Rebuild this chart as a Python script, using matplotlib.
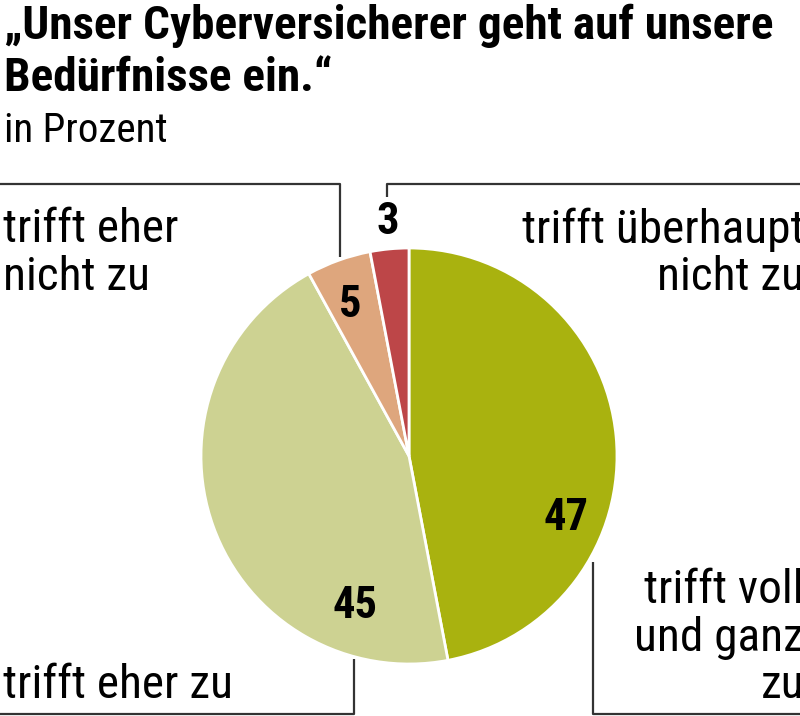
import matplotlib
matplotlib.use('Agg')
import matplotlib.pyplot as plt

plt.rcParams['font.family'] = ['Roboto Condensed', 'DejaVu Sans']

# data
labels = ['trifft voll\nund ganz\nzu', 'trifft eher zu', 'trifft eher\nnicht zu', 'trifft überhaupt\nnicht zu']
values = [47, 45, 5, 3]
colors = ['#a9b20f', '#cdd292', '#dea67d', '#bd4648']

W, H = 800, 716
fig = plt.figure(figsize=(W / 100, H / 100), dpi=100)
ax = fig.add_axes([0, 0, 1, 1])

# pie in pixel coordinates (y up)
cx, cy, r = 409, H - 456, 208
ax.pie(values, colors=colors, startangle=90, counterclock=False,
       center=(cx, cy), radius=r,
       wedgeprops=dict(edgecolor='white', linewidth=2))
ax.set_xlim(0, W)
ax.set_ylim(0, H)
ax.set_aspect('equal')
ax.axis('off')

def py(y):
    return H - y

# title
ax.text(4, py(39), '„Unser Cyberversicherer geht auf unsere', fontsize=34, fontweight='bold', va='baseline')
ax.text(4, py(91), 'Bedürfnisse ein.“', fontsize=34, fontweight='bold', va='baseline')
ax.text(4, py(142), 'in Prozent', fontsize=29.5, va='baseline')

# value labels
num = dict(fontsize=32, fontweight='bold', ha='center', va='center')
ax.text(566, py(518), str(values[0]), **num)
ax.text(355, py(606), str(values[1]), **num)
ax.text(350, py(305), str(values[2]), **num)
ax.text(388, py(222), str(values[3]), **num)

# category labels
cat = dict(fontsize=34, va='baseline', linespacing=1.1)
ax.text(3, py(290), labels[2], ha='left', **cat)
ax.text(804, py(290), labels[3], ha='right', multialignment='right', **cat)
ax.text(804, py(698), labels[0], ha='right', multialignment='right', **cat)
ax.text(3, py(698), labels[1], ha='left', **cat)

# bracket lines
line = dict(color='#333333', linewidth=1.6, solid_capstyle='butt')
ax.plot([0, 340, 340], [py(184), py(184), py(257)], **line)
ax.plot([387, 387, W], [py(197), py(184), py(184)], **line)
ax.plot([0, 354, 354], [py(714), py(714), py(659)], **line)
ax.plot([593, 593, W], [py(562), py(714), py(714)], **line)

fig.savefig('out.png', dpi=100)
